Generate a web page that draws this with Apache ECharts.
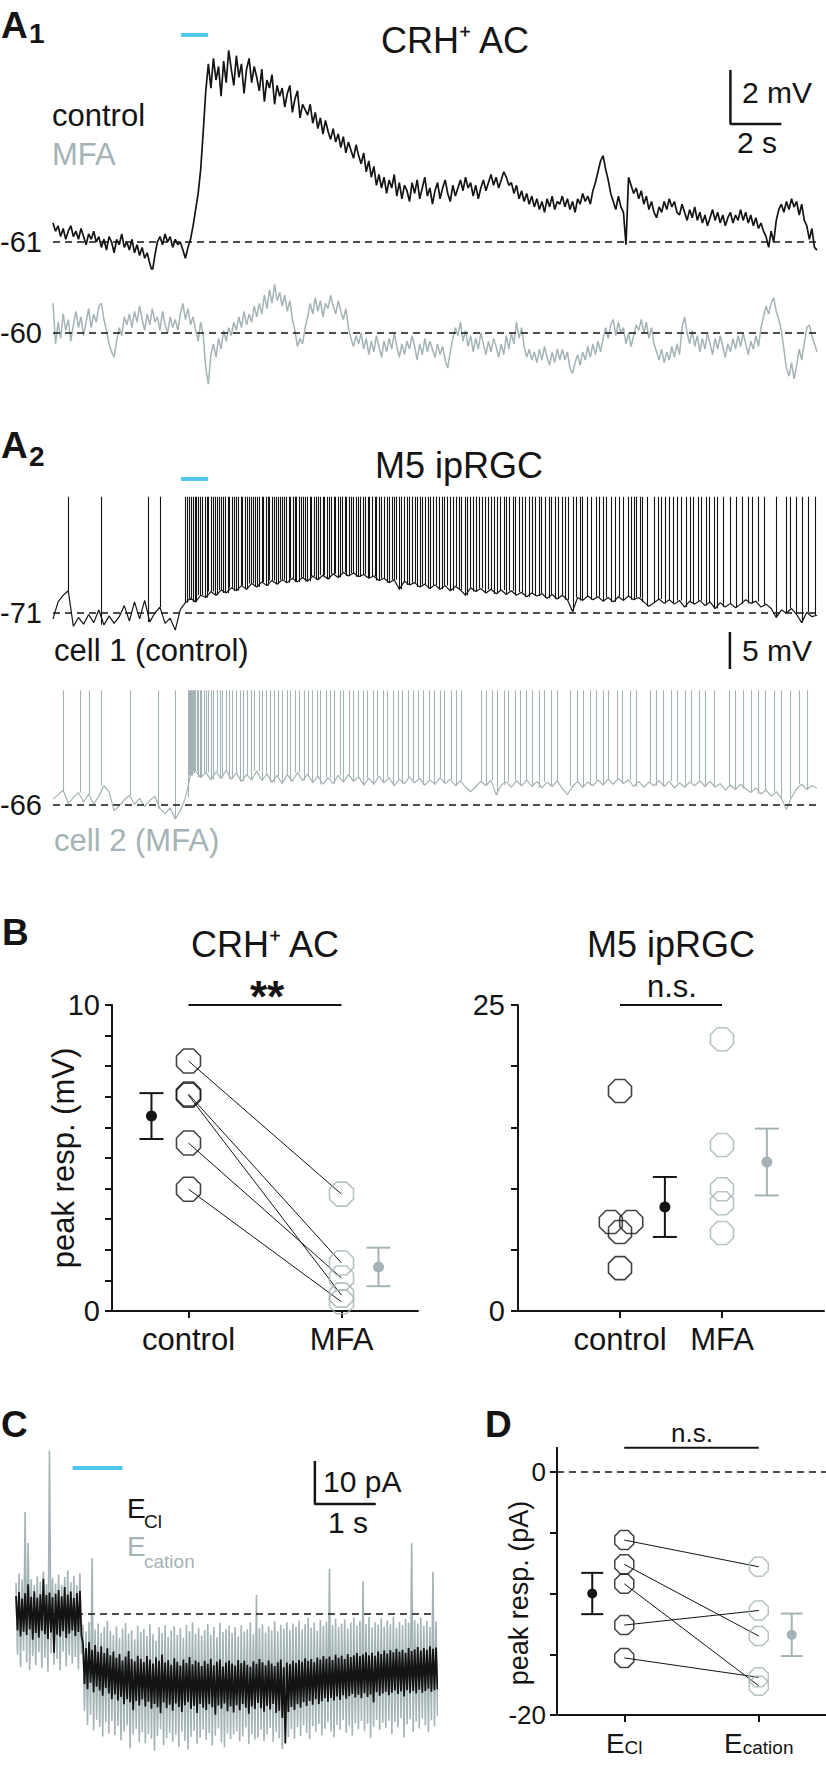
<!DOCTYPE html>
<html><head><meta charset="utf-8">
<script src="https://cdn.jsdelivr.net/npm/echarts@6/dist/echarts.min.js"></script>
<style>html,body{margin:0;padding:0;background:#fff}#c{width:826px;height:1767px}</style>
</head><body><div id="c"></div>
<script>
// ================= DATA =================
// A1: CRH+ AC membrane potential (mV), sampled every 0.1 s, 0..30 s
const A1_DT = 0.1;
const a1Control = [
-60.3,-60.6,-60.4,-60.8,-60.5,-60.9,-60.6,-60.4,-60.8,-60.6,
-60.9,-60.5,-60.8,-61.1,-60.7,-60.9,-60.6,-61.0,-60.8,-61.2,
-60.9,-61.3,-60.8,-61.0,-61.4,-60.9,-61.1,-60.7,-61.2,-61.0,
-61.3,-60.9,-61.4,-61.1,-61.5,-61.2,-61.6,-61.4,-61.8,-62.1,
-61.5,-61.0,-60.8,-61.1,-60.7,-61.0,-60.8,-61.2,-60.9,-61.1,
-61.0,-61.3,-61.6,-61.2,-60.9,-60.4,-59.8,-59.2,-58.3,-56.9,
-55.4,-54.4,-55.3,-54.2,-55.0,-54.5,-55.6,-54.3,-55.1,-53.9,
-54.6,-55.2,-54.1,-54.9,-54.4,-55.5,-54.6,-54.2,-55.1,-54.5,
-54.9,-55.4,-54.6,-55.8,-55.0,-55.3,-54.8,-55.9,-55.2,-55.6,
-55.3,-56.0,-55.5,-55.2,-56.2,-55.7,-55.4,-56.4,-55.9,-56.1,
-56.3,-55.9,-56.6,-56.2,-56.8,-56.4,-57.0,-56.5,-56.9,-57.2,
-56.8,-57.3,-57.0,-57.5,-57.1,-57.7,-57.3,-57.6,-57.9,-57.4,
-57.8,-58.1,-57.7,-58.4,-58.0,-58.6,-58.2,-58.9,-58.5,-59.0,
-58.6,-59.2,-58.7,-59.0,-58.5,-59.3,-58.8,-59.4,-58.9,-59.1,
-59.5,-58.8,-59.2,-58.7,-59.4,-59.0,-58.6,-59.3,-59.0,-59.6,
-59.1,-58.8,-59.4,-59.0,-58.7,-59.2,-59.5,-58.9,-59.3,-59.0,
-58.7,-59.1,-58.6,-59.0,-58.8,-59.3,-58.9,-59.4,-59.0,-58.7,
-59.1,-58.8,-58.5,-58.9,-58.6,-59.0,-58.7,-58.4,-58.6,-58.9,
-58.8,-59.2,-58.9,-59.4,-59.1,-59.5,-59.2,-59.6,-59.3,-59.7,
-59.4,-59.8,-59.5,-59.9,-59.4,-59.7,-59.3,-59.8,-59.5,-59.6,
-59.3,-59.7,-59.4,-59.8,-59.5,-59.9,-59.4,-59.6,-59.2,-59.5,
-59.3,-59.6,-59.1,-58.8,-58.4,-58.0,-57.8,-58.3,-58.7,-59.2,
-59.5,-59.8,-59.3,-59.7,-59.9,-61.1,-58.6,-58.9,-59.2,-59.0,
-59.4,-59.1,-59.6,-59.3,-59.8,-59.5,-59.9,-60.1,-59.7,-59.9,
-59.5,-59.8,-59.4,-59.7,-59.5,-59.9,-60.0,-59.6,-59.9,-60.2,
-59.8,-60.1,-59.7,-60.2,-59.9,-60.3,-60.0,-60.4,-60.1,-59.8,
-60.2,-59.9,-60.3,-60.0,-60.4,-60.1,-59.9,-60.3,-60.0,-60.2,
-59.8,-60.2,-59.9,-60.3,-60.0,-60.4,-60.1,-60.5,-60.3,-60.6,
-60.8,-61.2,-60.6,-61.0,-60.2,-59.8,-59.6,-59.9,-59.5,-59.8,
-59.4,-59.7,-59.5,-60.0,-59.6,-60.2,-60.4,-60.9,-60.5,-61.2,
-61.3];
const a1Mfa = [
-58.9,-60.4,-59.6,-60.2,-59.3,-59.9,-59.5,-60.3,-59.7,-59.2,
-59.8,-59.4,-60.1,-59.6,-59.1,-59.8,-59.3,-59.6,-59.0,-58.9,
-59.5,-59.9,-60.4,-60.7,-60.9,-60.3,-59.8,-60.1,-59.4,-59.7,
-59.3,-59.8,-59.2,-59.6,-59.0,-59.5,-59.9,-59.3,-59.7,-59.1,
-59.6,-59.4,-59.9,-59.2,-59.7,-60.0,-59.4,-59.8,-59.5,-59.9,
-59.3,-58.9,-59.5,-59.1,-59.7,-59.4,-59.9,-60.3,-59.6,-60.1,
-61.3,-61.9,-60.8,-60.4,-60.9,-60.2,-60.6,-59.9,-60.3,-59.8,
-60.1,-59.6,-59.9,-59.4,-59.8,-59.2,-59.7,-59.3,-59.6,-59.0,
-59.4,-58.9,-59.3,-58.6,-59.1,-58.4,-58.9,-58.2,-58.8,-58.5,
-59.0,-58.6,-59.2,-58.8,-59.5,-59.9,-60.5,-60.2,-60.4,-59.8,
-59.4,-58.9,-59.3,-58.7,-59.2,-58.8,-59.4,-58.9,-59.1,-58.6,
-59.0,-59.3,-58.8,-59.2,-59.5,-59.1,-59.8,-60.2,-60.5,-60.1,
-60.4,-60.0,-60.6,-60.2,-60.8,-60.3,-60.7,-60.1,-60.5,-60.9,
-60.3,-60.7,-60.2,-60.6,-60.0,-60.5,-60.9,-60.4,-60.8,-60.3,
-60.6,-60.1,-60.5,-61.0,-60.4,-60.8,-60.2,-60.7,-60.3,-60.6,
-60.9,-60.4,-60.8,-60.5,-61.0,-61.3,-60.7,-60.2,-59.8,-60.1,
-59.6,-60.3,-59.9,-60.5,-60.1,-60.7,-60.2,-60.6,-60.0,-60.4,
-60.8,-60.3,-60.7,-60.2,-60.5,-60.9,-60.4,-60.8,-60.1,-60.6,
-60.0,-60.4,-59.6,-60.2,-59.8,-60.5,-60.9,-60.6,-61.0,-60.7,
-61.1,-60.6,-61.0,-60.5,-60.9,-61.2,-60.7,-61.1,-60.6,-61.0,
-60.6,-61.0,-60.7,-61.3,-61.5,-61.1,-60.8,-61.2,-60.7,-61.0,
-60.5,-60.9,-60.4,-60.8,-60.3,-60.7,-60.2,-59.8,-60.2,-59.7,
-59.5,-60.1,-59.6,-60.0,-59.8,-60.4,-60.0,-60.5,-60.1,-59.7,
-59.9,-59.5,-60.0,-59.6,-60.2,-59.8,-60.4,-60.7,-61.0,-60.6,
-61.1,-60.7,-61.0,-60.5,-60.9,-60.4,-60.8,-59.8,-59.4,-60.0,
-60.4,-59.9,-60.5,-60.1,-60.7,-60.2,-60.6,-60.0,-60.4,-60.8,
-60.2,-60.6,-60.1,-60.5,-60.9,-60.4,-60.7,-60.2,-60.6,-60.1,
-60.5,-60.0,-60.4,-60.8,-60.3,-60.6,-60.1,-60.5,-59.8,-59.4,
-59.0,-59.3,-58.9,-58.7,-59.2,-59.5,-59.9,-60.6,-61.3,-61.6,
-61.1,-61.7,-61.2,-60.6,-61.0,-60.4,-59.8,-59.7,-60.1,-60.4,
-60.7];
const a1RestMv = [-61, -60];          // control, MFA resting potential
const lightA = [5.03, 6.09];           // light on/off (s)

// A2: M5 ipRGC, sub-spike membrane potential every 0.2 s, plus spike times (s)
const A2_DT = 0.2;
const a2ControlBase = [
-71.8,-69.5,-68.6,-68.0,-72.8,-71.6,-72.5,-71.2,-72.3,-70.6,-72.6,-71.4,-72.4,-71.5,-70.0,-72.1,-69.5,-71.8,-69.3,-72.2,-71.0,-70.2,-72.4,-71.7,-73.3,-70.5,
-69.6,-69.0,-69.5,-68.6,-68.9,-68.1,-68.6,-67.9,-68.3,-67.6,
-68.0,-67.3,-67.8,-67.0,-67.5,-66.8,-67.3,-66.6,-67.1,-66.5,
-66.9,-66.3,-66.8,-66.2,-66.7,-66.0,-66.5,-65.9,-66.4,-65.7,
-66.2,-65.5,-66.0,-65.6,-66.1,-65.8,-66.3,-66.0,-66.6,-66.3,
-66.9,-66.5,-67.8,-66.7,-67.2,-66.9,-67.5,-67.1,-67.7,-67.2,
-67.8,-67.3,-68.0,-67.4,-67.9,-68.6,-67.6,-68.1,-67.7,-68.3,
-67.8,-68.4,-67.9,-68.5,-68.0,-68.6,-68.2,-68.8,-68.3,-68.7,
-68.4,-69.0,-68.5,-69.1,-68.6,-69.2,-70.8,-68.9,-69.3,-68.7,
-69.2,-68.8,-69.4,-68.9,-69.5,-68.8,-69.3,-68.7,-69.2,-68.9,
-69.5,-70.1,-69.6,-69.1,-69.7,-69.2,-69.8,-69.3,-70.2,-69.4,
-69.8,-69.3,-70.0,-69.5,-70.4,-69.6,-70.2,-69.7,-70.3,-69.8,
-69.2,-69.7,-69.4,-70.2,-69.8,-70.4,-71.6,-70.6,-71.0,-70.4,
-71.2,-72.3,-70.9,-71.5,-71.3];
const a2ControlSpikes = [0.60,1.91,3.74,4.20,
5.21,5.27,5.35,5.41,5.50,5.58,5.63,5.72,5.80,5.86,5.97,6.04,6.11,6.22,6.28,6.37,6.46,6.51,6.62,6.70,6.77,6.88,6.94,7.05,7.12,7.21,
7.29,7.38,7.44,7.55,7.61,7.70,7.79,7.85,7.96,8.03,8.10,8.21,8.27,8.36,8.44,8.50,8.61,8.67,8.76,8.85,8.91,9.02,9.08,9.17,9.26,9.32,
9.43,9.50,9.57,9.68,9.74,9.83,9.92,9.98,10.09,10.16,10.24,10.35,10.41,10.50,10.60,10.66,10.77,10.84,10.93,11.03,11.09,11.20,11.27,
11.36,11.46,11.52,11.63,11.71,11.80,11.91,11.97,12.08,12.17,12.25,12.36,12.43,12.53,12.64,12.71,12.82,12.90,13.01,13.12,13.19,13.31,
13.40,13.49,13.61,13.69,13.80,13.91,13.99,14.11,14.21,14.30,14.43,14.51,14.62,14.74,14.83,14.95,15.06,15.15,15.28,15.37,15.49,15.61,
15.70,15.83,15.94,16.05,16.18,16.27,16.40,16.52,16.62,16.75,16.86,16.97,17.11,17.20,17.33,17.46,17.56,17.70,17.81,17.93,18.07,18.17,
18.31,18.44,18.55,18.69,18.81,18.93,19.08,19.19,19.33,19.47,19.58,19.73,19.84,
19.98,20.10,20.23,20.43,20.56,20.72,20.80,20.98,21.15,21.32,21.45,21.60,21.74,21.94,22.07,22.24,22.39,22.59,22.72,22.81,22.92,23.05,
23.15,23.33,23.60,23.77,23.90,24.03,24.20,24.35,24.51,24.68,24.85,25.01,25.14,25.33,25.47,25.64,25.77,25.95,26.08,26.32,26.58,26.82,
27.08,27.30,27.47,27.69,27.92,28.39,28.78,28.94,29.20,29.44,29.66,29.92];
const a2MfaBase = [
-65.2,-64.6,-64.0,-65.8,-65.0,-64.3,-65.6,-64.5,-65.9,-64.8,-63.4,-64.2,-66.8,-66.1,-65.3,-64.7,-65.9,-65.1,-66.2,-65.4,-64.8,-66.5,-67.2,-66.4,-67.9,-66.8,
-65.0,-62.0,-61.4,-62.3,-61.6,-62.6,-61.5,-62.4,-61.3,-62.5,
-61.7,-62.8,-61.9,-62.6,-61.4,-62.7,-61.8,-62.9,-62.0,-63.1,
-61.9,-62.8,-61.6,-62.7,-61.8,-63.0,-62.1,-63.2,-62.3,-63.1,
-62.0,-62.9,-61.9,-62.8,-62.2,-63.3,-62.4,-63.2,-62.1,-63.0,
-62.3,-63.4,-62.5,-63.1,-62.2,-63.0,-62.4,-63.3,-62.6,-63.2,
-62.3,-63.1,-62.5,-63.4,-62.7,-63.6,-64.2,-63.5,-62.8,-63.4,
-62.6,-64.6,-63.3,-62.9,-63.6,-62.7,-63.4,-62.6,-63.5,-62.8,
-63.7,-62.9,-63.5,-62.7,-63.8,-64.6,-63.5,-62.8,-63.6,-62.9,
-63.4,-62.6,-63.3,-62.5,-63.2,-62.4,-63.1,-62.6,-63.5,-62.8,
-63.6,-62.9,-63.4,-62.7,-63.5,-62.8,-63.7,-63.0,-63.6,-62.9,
-63.4,-62.7,-63.5,-62.8,-63.6,-63.1,-64.0,-63.3,-63.9,-63.2,
-63.8,-64.3,-63.7,-64.5,-64.0,-64.8,-64.2,-65.1,-66.6,-65.0,
-63.8,-63.2,-63.9,-63.4,-63.7];
const a2MfaSpikes = [0.40,1.08,1.43,1.91,3.04,4.12,4.80,
5.30,5.34,5.38,5.42,5.46,5.51,5.55,5.60,5.65,5.71,5.77,5.84,5.92,6.00,6.10,6.21,6.30,6.43,6.55,6.66,6.80,6.93,7.05,7.21,7.34,7.47,
7.63,7.78,7.90,8.08,8.22,8.37,8.55,8.68,8.86,9.01,9.19,9.33,9.52,9.66,9.85,10.02,10.18,10.37,10.51,10.72,10.88,11.05,11.26,11.41,
11.62,11.79,11.97,12.20,12.35,12.58,12.74,12.96,13.14,13.35,13.55,13.71,13.95,14.13,14.36,14.52,14.78,14.96,15.20,15.38,15.63,15.84,
16.02,16.80,17.01,17.24,17.43,17.70,17.88,18.15,18.36,18.60,18.82,19.10,19.30,19.58,19.79,20.33,20.58,20.81,21.10,21.33,21.60,21.82,
22.14,22.36,22.65,22.90,23.44,23.70,23.95,24.26,24.50,24.82,25.05,25.37,25.62,25.96,26.55,26.80,27.12,27.40,27.71,27.98,28.33,28.60,
28.95,29.30,29.62];
const a2RestMv = [-71, -66];
const a2SpikeClipMv = [-55.3, -50.5];   // spike tops (clipped) control, MFA

// C: holding current (pA), noise envelope sampled every 0.05 s, 0..6.9 s
const C_DT = 0.05;
const cClUpper = [
4.2,5.1,3.6,4.8,6.9,4.0,5.3,3.8,4.6,8.2,4.4,
5.0,3.9,4.7,5.6,4.1,6.3,4.5,5.2,3.7,4.9,5.4,
-6.8,-7.9,-6.5,-8.3,-7.2,-8.8,-7.5,-9.1,-8.0,-9.6,
-8.7,-10.2,-9.3,-10.8,-9.9,-8.6,-10.5,-11.0,-9.7,-10.4,
-11.2,-9.8,-10.6,-11.5,-10.1,-10.9,-9.4,-11.3,-10.7,-11.8,
-10.3,-11.1,-12.0,-10.6,-11.4,-10.0,-11.7,-10.8,-11.2,-12.1,
-10.9,-11.6,-10.4,-11.9,-11.1,-10.6,-12.2,-11.3,-10.8,-11.5,
-12.0,-10.7,-11.4,-10.9,-11.8,-12.3,-11.0,-11.6,-10.5,-11.2,
-11.9,-10.8,-11.5,-12.1,-11.2,-10.6,-12.4,-11.3,-11.7,-10.9,
-11.4,-10.7,-11.1,-10.3,-10.9,-10.5,-11.2,-10.1,-10.6,-9.8,
-10.4,-9.9,-10.7,-9.5,-10.2,-9.7,-10.5,-9.3,-10.0,-9.6,
-9.1,-9.8,-9.4,-8.9,-9.6,-9.0,-9.7,-8.7,-9.3,-8.5,
-9.2,-8.4,-8.9,-8.1,-8.8,-8.3,-9.0,-7.9,-8.6,-8.2,
-7.7,-8.5,-7.9,-8.3,-7.5,-8.1,-7.8];
const cClLower = [
-3.8,-5.2,-4.1,-4.9,-3.6,-6.0,-4.4,-5.5,-3.9,-4.7,-5.8,
-4.3,-9.0,-4.8,-5.3,-4.0,-5.6,-4.5,-3.8,-5.1,-4.2,-4.9,
-16.3,-17.5,-16.0,-18.2,-16.9,-17.8,-19.0,-17.2,-18.5,-19.8,
-18.7,-20.1,-19.3,-21.0,-19.8,-20.5,-22.4,-20.2,-21.3,-19.9,
-21.5,-20.4,-22.0,-20.9,-21.7,-23.1,-20.6,-21.9,-21.1,-22.5,
-20.8,-21.6,-22.8,-21.2,-20.5,-22.1,-21.4,-23.0,-20.9,-21.8,
-22.3,-21.0,-21.7,-23.4,-21.3,-22.0,-20.8,-22.6,-21.5,-22.9,
-21.2,-22.4,-20.9,-21.8,-23.2,-21.5,-22.1,-20.7,-21.9,-22.7,
-21.4,-22.2,-20.9,-23.0,-22.5,-24.2,-30.1,-22.8,-21.6,-22.3,
-21.0,-21.8,-20.5,-21.4,-20.2,-21.1,-19.8,-20.9,-20.3,-19.6,
-20.4,-19.5,-20.1,-19.2,-20.0,-18.9,-19.7,-19.1,-18.6,-19.4,
-18.8,-19.6,-18.4,-19.3,-18.7,-20.6,-18.2,-19.0,-18.5,-18.1,
-18.9,-18.3,-17.8,-18.6,-18.0,-19.2,-17.7,-18.4,-17.9,-18.5,
-17.6,-18.3,-17.9,-17.4,-18.1,-17.7,-17.5];
const cCationUpper = [
7.2,9.4,8.0,23.7,16.5,8.1,6.6,8.8,7.5,9.9,6.9,
38.0,8.4,7.1,9.2,6.8,8.6,10.1,7.4,8.9,6.7,9.5,
-2.5,-4.1,-1.8,13.0,-3.6,-2.2,-4.5,-3.0,-1.6,-3.9,
-4.8,-2.9,-5.5,-3.4,-2.1,-4.6,-3.8,-5.9,-2.7,-4.2,
-3.5,-5.1,-2.4,-4.7,-6.2,-3.1,-4.4,-2.6,-5.3,-3.9,
-2.8,-4.9,-3.3,-5.6,-2.5,-4.0,-1.9,-4.6,-3.2,-5.0,
-3.7,-2.3,-4.8,-3.0,-5.4,-2.1,-4.2,-3.5,-2.7,-4.5,
-3.1,-5.2,-2.6,-4.1,-3.6,-2.0,-4.7,4.4,-3.3,-2.4,
-4.3,-2.9,-3.8,-1.7,-4.0,-2.5,-3.4,-1.9,-3.7,-2.2,
-3.0,-1.5,-3.6,-2.4,-0.9,-3.2,-2.0,-3.9,-1.4,-2.8,
-1.8,10.5,-2.6,-1.1,-3.0,-2.2,-1.3,-3.4,-2.0,-0.8,
-2.7,-1.6,7.7,-2.3,-0.7,-3.1,-1.9,-2.5,-1.0,-2.9,
-1.5,-2.4,-0.6,-3.3,-1.8,-2.6,-1.1,-2.0,16.5,-1.4,
-2.2,-0.9,-2.8,-1.6,-3.0,9.8,-1.7];
const cCationLower = [
-9.5,-12.4,-8.6,-11.3,-13.0,-9.8,-11.9,-8.9,-12.6,-10.2,-13.4,
-9.1,-11.8,-10.4,-13.1,-8.7,-12.2,-9.6,-11.5,-10.0,-12.9,-9.3,
-22.5,-25.8,-23.4,-27.1,-24.6,-26.3,-28.5,-25.2,-27.8,-24.9,
-28.2,-26.0,-29.4,-27.3,-25.9,-31.2,-28.0,-26.7,-29.8,-27.5,
-30.1,-27.9,-29.0,-31.8,-28.4,-26.8,-30.5,-28.9,-27.6,-29.7,
-28.1,-30.9,-27.4,-29.5,-31.5,-28.6,-27.2,-30.2,-28.8,-26.9,
-29.3,-27.7,-30.6,-28.3,-26.6,-29.9,-31.0,-27.8,-29.1,-28.0,
-27.3,-29.6,-28.5,-26.4,-30.3,-27.9,-29.2,-28.7,-26.9,-29.5,
-28.0,-26.5,-29.7,-27.4,-28.9,-31.4,-27.1,-28.6,-26.8,-29.0,
-26.3,-28.4,-25.9,-27.7,-29.1,-26.1,-27.5,-25.6,-28.2,-26.7,
-25.2,-27.3,-28.6,-25.8,-26.9,-24.7,-27.6,-26.0,-28.3,-25.4,
-26.8,-24.9,-27.2,-25.5,-28.9,-26.2,-24.6,-27.0,-25.3,-26.5,
-24.8,-27.9,-25.1,-26.4,-24.2,-28.7,-25.7,-24.5,-27.4,-25.0,
-26.6,-24.3,-25.9,-27.5,-24.7,-26.1,-23.8];
const lightC = [0.93, 1.75];

// B: peak responses (mV)
const bCategories = ['control', 'MFA'];
const bCrhControl = [8.17, 7.09, 7.05, 5.49, 3.98];
const bCrhMfa     = [3.82, 1.57, 0.52, 1.08, 0.30];
const bCrhMean = [6.37, 1.44];
const bCrhSem  = [0.75, 0.63];
const bM5Control = [17.97, 7.27, 7.27, 6.45, 3.50];
const bM5Mfa     = [22.2, 13.56, 9.95, 8.8, 6.37];
const bM5Mean = [8.5, 12.17];
const bM5Sem  = [2.45, 2.73];
// D: peak responses (pA), paired by cell
const dCategories = ['Cl', 'cation'];
const dCl     = [-5.6, -7.6, -9.2, -12.6, -15.3];
const dCation = [-7.8, -13.5, -17.6, -11.4, -16.9];
const dMean = [-10.0, -13.4];
const dSem  = [1.7, 1.75];
// tick values / labels
const bCrhTicks = [0,1,2,3,4,5,6,7,8,9,10];
const bCrhTickLabels = [0, 10];
const bM5Ticks = [0,5,10,15,20,25];
const bM5TickLabels = [0, 25];
const dTicks = [-20,-15,-10,-5,0];
const dTickLabels = [-20, 0];

// ================= STYLE / LAYOUT =================
const FONT = "'Liberation Sans', Arial, Helvetica, sans-serif";
const BLACK = '#141414', GREY = '#a4b3b5', BLUE = '#50c6ee';
const OCT = 'path://M29.3,0L70.7,0L100,29.3L100,70.7L70.7,100L29.3,100L0,70.7L0,29.3Z';

function samples(arr, dt) { return arr.map((v, i) => [+(i * dt).toFixed(3), v]); }
function nearest(arr, dt, t) { return arr[Math.min(arr.length - 1, Math.round(t / dt))]; }
function spikes(times, base, dt, top) { return times.map(t => ({ coords: [[t, nearest(base, dt, t)], [t, top]] })); }
function zigzag(up, lo, dt) { const o = []; up.forEach((u, i) => { o.push([+(i*dt).toFixed(3), u]); o.push([+(i*dt + dt/2).toFixed(3), lo[i]]); }); return o; }
function txt(text, x, y, size, opt) {
  opt = opt || {};
  return { type: 'text', x: x, y: y, rotation: opt.rot || 0, silent: true,
    style: { text: text, fontSize: size, fontFamily: FONT, fontWeight: opt.bold ? 'bold' : 'normal',
      fill: opt.color || BLACK, align: opt.align || 'left', textAlign: opt.align || 'left',
      verticalAlign: 'middle', textVerticalAlign: 'middle' } };
}
function errRender(colors, capHalf, r) {
  return function (params, api) {
    const x = api.value(0), m = api.value(1), s = api.value(2);
    const c = colors[params.dataIndex];
    const pm = api.coord([x, m]), pt = api.coord([x, m + s]), pb = api.coord([x, m - s]);
    const st = { stroke: c, lineWidth: 2 };
    return { type: 'group', children: [
      { type: 'line', shape: { x1: pt[0], y1: pt[1], x2: pb[0], y2: pb[1] }, style: st },
      { type: 'line', shape: { x1: pt[0] - capHalf, y1: pt[1], x2: pt[0] + capHalf, y2: pt[1] }, style: st },
      { type: 'line', shape: { x1: pb[0] - capHalf, y1: pb[1], x2: pb[0] + capHalf, y2: pb[1] }, style: st },
      { type: 'circle', shape: { cx: pm[0], cy: pm[1], r: r }, style: { fill: c } }
    ] };
  };
}
const dashed = (v) => ({ silent: true, symbol: ['none', 'none'], label: { show: false },
  lineStyle: { type: [7, 5], color: BLACK, width: 1.5 }, data: [{ yAxis: v }] });
const line = (xi, data, color, width, extra) => Object.assign({ type: 'line', xAxisIndex: xi, yAxisIndex: xi,
  data: data, showSymbol: false, symbol: 'none', silent: true, lineStyle: { color: color, width: width }, z: 2 }, extra || {});

const grids = [
  { left: 53, width: 764, top: 26, height: 243 },        // 0 A1 control
  { left: 53, width: 764, top: 279, height: 108 },       // 1 A1 MFA
  { left: 53, width: 764, top: 472.4, height: 199.8 },   // 2 A2 control
  { left: 53, width: 764, top: 679.2, height: 148 },     // 3 A2 MFA
  { left: 112, width: 306, top: 1005, height: 306 },     // 4 B CRH
  { left: 518, width: 306, top: 1005, height: 306 },     // 5 B M5
  { left: 16, width: 420, top: 1442, height: 322.5 },    // 6 C
  { left: 557, width: 269, top: 1447.7, height: 267.3 }  // 7 D
].map(g => Object.assign(g, { containLabel: false, outerBoundsMode: 'none' }));

const traceY = (gi, min, max, rest) => ({ gridIndex: gi, type: 'value', min: min, max: max,
  axisLine: { show: false, onZero: false }, axisTick: { show: false }, splitLine: { show: false },
  axisLabel: { customValues: [rest], formatter: v => (v === rest ? String(rest) : ''),
    fontSize: 29, fontFamily: FONT, color: BLACK, margin: 11 } });
const hiddenX = (gi, min, max) => ({ gridIndex: gi, type: 'value', min: min, max: max, show: false, axisLine: { onZero: false } });
const axisStyle = { onZero: false, lineStyle: { color: BLACK, width: 2 } };
const catX = (gi, min, max, fmt, labelStyle) => ({ gridIndex: gi, type: 'value', min: min, max: max,
  axisLine: axisStyle, splitLine: { show: false },
  axisTick: { customValues: [1, 2], length: 7, lineStyle: { color: BLACK, width: 2 } },
  axisLabel: Object.assign({ customValues: [1, 2], formatter: fmt }, labelStyle) });
const valY = (gi, min, max, interval, ticks, labels, size, margin, extra) => Object.assign({ gridIndex: gi, type: 'value',
  min: min, max: max, interval: interval, axisLine: axisStyle, splitLine: { show: false },
  axisTick: { customValues: ticks, length: 7, lineStyle: { color: BLACK, width: 2 } },
  axisLabel: { customValues: labels, formatter: v => (labels.indexOf(v) >= 0 ? String(v) : ''),
    fontSize: size, fontFamily: FONT, color: BLACK, margin: margin } }, extra || {});

const option = {
  animation: false,
  backgroundColor: '#fff',
  grid: grids,
  xAxis: [hiddenX(0, 0, 30), hiddenX(1, 0, 30), hiddenX(2, 0, 30), hiddenX(3, 0, 30),
    catX(4, 0.5, 2.5, v => bCategories[v - 1] || '', { fontSize: 31, lineHeight: 31, fontFamily: FONT, color: BLACK, margin: 13 }),
    catX(5, 0, 3, v => bCategories[v - 1] || '', { fontSize: 31, lineHeight: 31, fontFamily: FONT, color: BLACK, margin: 13 }),
    hiddenX(6, 0, 6.9),
    catX(7, 0.5, 2.5, v => (dCategories[v - 1] ? '{e|E}{s|' + dCategories[v - 1] + '}' : ''),
      { margin: 14, rich: { e: { fontSize: 28, lineHeight: 28, fontFamily: FONT, color: BLACK },
        s: { fontSize: 19, lineHeight: 4, verticalAlign: 'bottom', fontFamily: FONT, color: BLACK } } })],
  yAxis: [traceY(0, -62, -53, a1RestMv[0]), traceY(1, -62, -58, a1RestMv[1]),
    traceY(2, -79, -52, a2RestMv[0]), traceY(3, -69, -49, a2RestMv[1]),
    valY(4, 0, 10, 1, bCrhTicks, bCrhTickLabels, 29, 12),
    valY(5, 0, 25, 5, bM5Ticks, bM5TickLabels, 29, 13),
    { gridIndex: 6, type: 'value', min: -35, max: 40, show: false, axisLine: { onZero: false } },
    valY(7, -20, 2, 5, dTicks, dTickLabels, 26, 11)],
  series: [
    // ---- A1 ----
    line(0, samples(a1Control, A1_DT), BLACK, 1.7, { markLine: dashed(a1RestMv[0]) }),
    line(0, [[lightA[0], -53.33], [lightA[1], -53.33]], BLUE, 4),
    line(0, [[26.6, -54.63], [26.6, -56.63], [28.6, -56.63]], BLACK, 2.5),
    line(1, samples(a1Mfa, A1_DT), GREY, 1.5, { markLine: dashed(a1RestMv[1]) }),
    // ---- A2 ----
    line(2, samples(a2ControlBase, A2_DT), BLACK, 1.2, { markLine: dashed(a2RestMv[0]) }),
    { type: 'lines', coordinateSystem: 'cartesian2d', xAxisIndex: 2, yAxisIndex: 2, silent: true, z: 2,
      data: spikes(a2ControlSpikes, a2ControlBase, A2_DT, a2SpikeClipMv[0]), lineStyle: { color: BLACK, width: 1.1, opacity: 1 } },
    line(2, [[lightA[0], -52.9], [lightA[1], -52.9]], BLUE, 4),
    line(2, [[26.58, -78.57], [26.58, -73.57]], BLACK, 2.5),
    line(3, samples(a2MfaBase, A2_DT), GREY, 1.2, { markLine: dashed(a2RestMv[1]) }),
    { type: 'lines', coordinateSystem: 'cartesian2d', xAxisIndex: 3, yAxisIndex: 3, silent: true, z: 2,
      data: spikes(a2MfaSpikes, a2MfaBase, A2_DT, a2SpikeClipMv[1]), lineStyle: { color: GREY, width: 1.1, opacity: 1 } },
    // ---- B CRH ----
    { type: 'lines', coordinateSystem: 'cartesian2d', xAxisIndex: 4, yAxisIndex: 4, silent: true, z: 2,
      data: bCrhControl.map((v, i) => ({ coords: [[1, v], [2, bCrhMfa[i]]] })), lineStyle: { color: BLACK, width: 1, opacity: 1 } },
    { type: 'scatter', xAxisIndex: 4, yAxisIndex: 4, silent: true, z: 3, symbol: OCT, symbolSize: 24,
      data: bCrhControl.map(v => [1, v]), itemStyle: { color: 'rgba(0,0,0,0)', borderColor: BLACK, borderWidth: 1.6 } },
    { type: 'scatter', xAxisIndex: 4, yAxisIndex: 4, silent: true, z: 3, symbol: OCT, symbolSize: 24,
      data: bCrhMfa.map(v => [2, v]), itemStyle: { color: 'rgba(0,0,0,0)', borderColor: GREY, borderWidth: 1.6 } },
    { type: 'custom', xAxisIndex: 4, yAxisIndex: 4, silent: true, z: 4, renderItem: errRender([BLACK, GREY], 12, 5.5),
      data: [[1 - 0.242, bCrhMean[0], bCrhSem[0]], [2 + 0.242, bCrhMean[1], bCrhSem[1]]] },
    line(4, [[1, 10], [2, 10]], BLACK, 2, { clip: false }),
    // ---- B M5 ----
    { type: 'scatter', xAxisIndex: 5, yAxisIndex: 5, silent: true, z: 3, symbol: OCT, symbolSize: 23,
      data: bM5Control.map((v, i) => [1 + [0, -0.09, 0.11, 0, 0][i], v]), itemStyle: { color: 'rgba(0,0,0,0)', borderColor: BLACK, borderWidth: 1.6 } },
    { type: 'scatter', xAxisIndex: 5, yAxisIndex: 5, silent: true, z: 3, symbol: OCT, symbolSize: 23,
      data: bM5Mfa.map(v => [2, v]), itemStyle: { color: 'rgba(0,0,0,0)', borderColor: GREY, borderWidth: 1.6 } },
    { type: 'custom', xAxisIndex: 5, yAxisIndex: 5, silent: true, z: 4, renderItem: errRender([BLACK, GREY], 12, 5.5),
      data: [[1 + 0.44, bM5Mean[0], bM5Sem[0]], [2 + 0.44, bM5Mean[1], bM5Sem[1]]] },
    line(5, [[1, 25], [2, 25]], BLACK, 2, { clip: false }),
    // ---- C ----
    line(6, zigzag(cCationUpper, cCationLower, C_DT), GREY, 1.6),
    line(6, zigzag(cClUpper, cClLower, C_DT), BLACK, 1.8, { z: 3, markLine: dashed(0) }),
    line(6, [[lightC[0], 33.95], [lightC[1], 33.95]], BLUE, 4),
    line(6, [[4.91, 35.6], [4.91, 25.6], [5.91, 25.6]], BLACK, 2.5),
    // ---- D ----
    { type: 'lines', coordinateSystem: 'cartesian2d', xAxisIndex: 7, yAxisIndex: 7, silent: true, z: 2,
      data: dCl.map((v, i) => ({ coords: [[1, v], [2, dCation[i]]] })), lineStyle: { color: BLACK, width: 1, opacity: 1 } },
    { type: 'scatter', xAxisIndex: 7, yAxisIndex: 7, silent: true, z: 3, symbol: OCT, symbolSize: 19,
      data: dCl.map(v => [1, v]), itemStyle: { color: 'rgba(0,0,0,0)', borderColor: BLACK, borderWidth: 1.5 },
      markLine: dashed(0) },
    { type: 'scatter', xAxisIndex: 7, yAxisIndex: 7, silent: true, z: 3, symbol: OCT, symbolSize: 19,
      data: dCation.map(v => [2, v]), itemStyle: { color: 'rgba(0,0,0,0)', borderColor: GREY, borderWidth: 1.5 } },
    { type: 'custom', xAxisIndex: 7, yAxisIndex: 7, silent: true, z: 4, renderItem: errRender([BLACK, GREY], 11, 5),
      data: [[1 - 0.238, dMean[0], dSem[0]], [2 + 0.245, dMean[1], dSem[1]]] },
    line(7, [[1, 2], [2, 2]], BLACK, 2, { clip: false })
  ],
  graphic: { elements: [
    txt('A', 1, 25, 37, { bold: true }), txt('1', 29, 33, 28, { bold: true }),
    txt('CRH⁺ AC', 455, 40, 36, { align: 'center' }),
    txt('control', 52, 115, 31), txt('MFA', 52, 154, 31, { color: GREY }),
    txt('2 mV', 742, 92, 30), txt('2 s', 737, 142, 30),
    txt('A', 1, 445, 37, { bold: true }), txt('2', 29, 456, 28, { bold: true }),
    txt('M5 ipRGC', 459, 465, 36, { align: 'center' }),
    txt('cell 1 (control)', 54, 650, 31), txt('5 mV', 742, 650, 30),
    txt('cell 2 (MFA)', 54, 840, 31, { color: GREY }),
    txt('B', 2, 932, 37, { bold: true }),
    txt('CRH⁺ AC', 265, 944, 36, { align: 'center' }),
    txt('M5 ipRGC', 671, 944, 36, { align: 'center' }),
    txt('**', 267, 996, 44, { align: 'center', bold: true }),
    txt('n.s.', 672, 986, 31, { align: 'center' }),
    txt('peak resp. (mV)', 63, 1158, 31, { align: 'center', rot: Math.PI / 2 }),
    txt('C', 1, 1424, 37, { bold: true }),
    txt('10 pA', 323, 1481, 30), txt('1 s', 328, 1522, 30),
    txt('E', 127, 1508, 28), txt('Cl', 144, 1521, 19),
    txt('E', 127, 1546, 28, { color: GREY }), txt('cation', 144, 1561, 19, { color: GREY }),
    txt('D', 485, 1424, 37, { bold: true }),
    txt('n.s.', 692, 1433, 26, { align: 'center' }),
    txt('peak resp. (pA)', 519, 1593, 27, { align: 'center', rot: Math.PI / 2 })
  ] }
};
const chart = echarts.init(document.getElementById('c'), null, { renderer: 'svg', width: 826, height: 1767 });
chart.setOption(option);
</script>
</body></html>
